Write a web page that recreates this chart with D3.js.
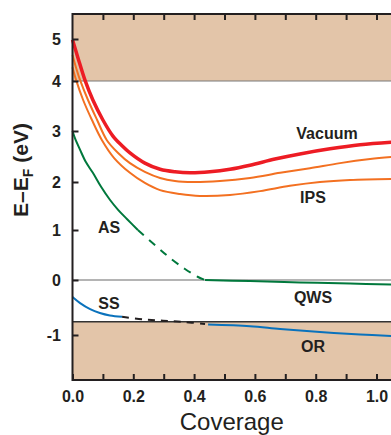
<!DOCTYPE html>
<html>
<head>
<meta charset="utf-8">
<script src="https://d3js.org/d3.v7.min.js"></script>
<style>
  body { margin: 0; background: #fff; }
  svg { display: block; font-family: "Liberation Sans", Arial, Helvetica, sans-serif; }
  .tick text { font-size: 16px; font-weight: bold; fill: #231f20; }
  .lbl { font-size: 16px; font-weight: bold; fill: #231f20; }
</style>
</head>
<body>
<div id="chart"></div>
<script>
// Data (coverage, energy in eV)
var vacuumX = [0, 0.018, 0.041, 0.067, 0.1, 0.133, 0.163, 0.189, 0.238, 0.288, 0.337, 0.387, 0.452, 0.518, 0.584, 0.666, 0.748, 0.847, 0.946, 1.048];
var vacuumY = [4.98, 4.55, 4.02, 3.62, 3.22, 2.90, 2.71, 2.57, 2.37, 2.25, 2.20, 2.18, 2.20, 2.25, 2.33, 2.45, 2.55, 2.65, 2.73, 2.78];

var ips1X = [0, 0.012, 0.025, 0.051, 0.081, 0.113, 0.15, 0.189, 0.238, 0.288, 0.337, 0.396, 0.485, 0.584, 0.683, 0.781, 0.88, 0.979, 1.048];
var ips1Y = [4.62, 4.31, 4.02, 3.62, 3.22, 2.82, 2.57, 2.37, 2.20, 2.08, 2.02, 2.00, 2.02, 2.08, 2.18, 2.27, 2.37, 2.45, 2.49];

var ips2X = [0, 0.012, 0.035, 0.064, 0.097, 0.137, 0.189, 0.238, 0.288, 0.354, 0.419, 0.518, 0.617, 0.715, 0.814, 0.913, 1.048];
var ips2Y = [4.33, 4.02, 3.62, 3.22, 2.82, 2.47, 2.18, 1.98, 1.83, 1.75, 1.71, 1.73, 1.81, 1.92, 2.00, 2.04, 2.06];

var asX = [0, 0.008, 0.025, 0.044, 0.067, 0.094, 0.123, 0.15, 0.179, 0.215];
var asY = [3.0, 2.86, 2.63, 2.39, 2.18, 1.90, 1.63, 1.42, 1.23, 1.0];
var asDashX = [0.215, 0.271, 0.321, 0.37, 0.413, 0.436];
var asDashY = [1.0, 0.70, 0.44, 0.22, 0.06, 0];
var qwsX = [0.436, 0.584, 0.748, 0.913, 1.048];
var qwsY = [0, -0.02, -0.045, -0.064, -0.082];

var ssX = [0, 0.025, 0.058, 0.09, 0.123, 0.163];
var ssY = [-0.31, -0.42, -0.53, -0.60, -0.645, -0.67];
var ssDashX = [0.163, 0.232, 0.298, 0.36, 0.436];
var ssDashY = [-0.67, -0.715, -0.74, -0.76, -0.80];
var orX = [0.446, 0.584, 0.683, 0.814, 0.946, 1.048];
var orY = [-0.81, -0.84, -0.89, -0.945, -0.99, -1.02];

var upperBand = 4.0;
var lowerBand = -0.76;

var yTicks = [-1, 0, 1, 2, 3, 4, 5];
var xTicks = [0, 0.1, 0.2, 0.3, 0.4, 0.5, 0.6, 0.7, 0.8, 0.9, 1.0];

var svgWidth = 391;
var svgHeight = 435;

var svg = d3.select("#chart")
  .append("svg")
  .attr("width", svgWidth)
  .attr("height", svgHeight);

var plotTop = 14, plotBottom = 380, plotLeft = 72.5;

var x = d3.scaleLinear()
  .domain([0, 1])
  .range([plotLeft, 376.5]);
var plotRight = x(1.07);

// the original axis is not evenly spaced, follow its tick marks
var y = d3.scaleLinear()
  .domain([-1, 0, 1, 2, 3, 4, 5])
  .range([335, 280, 230, 182, 131, 81, 39]);

// bands
svg.append("rect")
  .attr("x", plotLeft).attr("y", plotTop)
  .attr("width", plotRight - plotLeft).attr("height", y(upperBand) - plotTop)
  .attr("fill", "#e3c5a9");
svg.append("rect")
  .attr("x", plotLeft).attr("y", y(lowerBand))
  .attr("width", plotRight - plotLeft).attr("height", plotBottom - y(lowerBand))
  .attr("fill", "#e3c5a9");

function hline(v, color, w) {
  svg.append("line")
    .attr("x1", plotLeft).attr("x2", plotRight)
    .attr("y1", y(v)).attr("y2", y(v))
    .attr("stroke", color).attr("stroke-width", w);
}
hline(upperBand, "#7a7a7a", 1.2);
hline(0, "#6a6a6a", 1.2);
hline(lowerBand, "#333", 1.5);

var line = d3.line()
  .x(d => x(d[0]))
  .y(d => y(d[1]))
  .curve(d3.curveCatmullRom.alpha(0.5));

function drawCurve(xs, ys, color, w, dash) {
  var pts = xs.map((v, i) => [v, ys[i]]);
  svg.append("path")
    .datum(pts)
    .attr("d", line)
    .attr("fill", "none")
    .attr("stroke", color)
    .attr("stroke-width", w)
    .attr("stroke-dasharray", dash || null);
}

drawCurve(ips2X, ips2Y, "#f37021", 2);
drawCurve(ips1X, ips1Y, "#f37021", 2);
drawCurve(vacuumX, vacuumY, "#ed1c24", 3.5);
drawCurve(asX, asY, "#00783c", 2);
drawCurve(asDashX, asDashY, "#00783c", 2, "8,7");
drawCurve(qwsX, qwsY, "#00783c", 2);
drawCurve(ssX, ssY, "#0a72bc", 2);
drawCurve(ssDashX, ssDashY, "#231f20", 2, "7,6");
drawCurve(orX, orY, "#0a72bc", 2);

// axes
var yAxis = svg.append("g")
  .attr("transform", `translate(${plotLeft},0)`)
  .call(d3.axisLeft(y).tickValues(yTicks).tickSize(-6).tickPadding(11.5).tickFormat(d => String(d)));

var xAxis = svg.append("g")
  .attr("transform", `translate(0,${plotBottom})`)
  .call(d3.axisBottom(x).tickValues(xTicks).tickSize(-6).tickPadding(10.5)
    .tickFormat(d => (Math.round(d * 10) % 2 === 0) ? d.toFixed(1) : ""));

var topAxis = svg.append("g")
  .attr("transform", `translate(0,${plotTop})`)
  .call(d3.axisTop(x).tickValues(xTicks.slice(1)).tickSize(-6).tickFormat(""));

[yAxis, xAxis, topAxis].forEach(function(g) {
  g.attr("font-family", null).attr("font-size", null);
  g.select(".domain").remove();
  g.selectAll(".tick line").attr("stroke", "#231f20").attr("stroke-width", 2);
  g.selectAll(".tick text").attr("fill", "#231f20");
});

// frame
svg.append("path")
  .attr("d", `M${plotRight},${plotTop}H${plotLeft}V${plotBottom}H${plotRight}`)
  .attr("fill", "none")
  .attr("stroke", "#231f20")
  .attr("stroke-width", 2);

// curve labels
var labels = [
  ["Vacuum", 327, 139],
  ["IPS", 313, 203],
  ["AS", 109, 233],
  ["SS", 109, 309],
  ["QWS", 313, 303],
  ["OR", 313, 352]
];
labels.forEach(function(l) {
  svg.append("text")
    .attr("class", "lbl")
    .attr("x", l[1]).attr("y", l[2])
    .attr("text-anchor", "middle")
    .text(l[0]);
});

// axis titles
svg.append("text")
  .attr("x", (plotLeft + 391) / 2)
  .attr("y", 430)
  .attr("text-anchor", "middle")
  .style("font-size", "24px")
  .attr("fill", "#231f20")
  .text("Coverage");

var yTitle = svg.append("text")
  .attr("transform", "translate(28,170) rotate(-90)")
  .attr("text-anchor", "middle")
  .style("font-size", "21px")
  .style("font-weight", "bold")
  .attr("fill", "#231f20");
yTitle.append("tspan").text("E\u2013E");
yTitle.append("tspan").attr("dy", 5).style("font-size", "14px").text("F");
yTitle.append("tspan").attr("dy", -5).text(" (eV)");
</script>
</body>
</html>
